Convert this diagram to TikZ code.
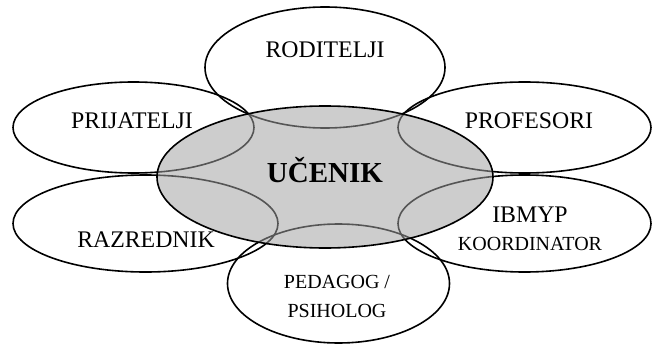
\documentclass[tikz,border=0pt]{standalone}
\usepackage{fontspec}
\setmainfont{Liberation Serif}
\usetikzlibrary{shapes.geometric}
\tikzset{
  petal/.style={ellipse, draw=black, line width=1.6pt, inner sep=0pt},
  core/.style={ellipse, draw=black, line width=1.6pt, inner sep=0pt, fill=black!37, fill opacity=0.53},
  lbl/.style={anchor=base, inner sep=0pt, font=\fontsize{23.8}{27}\selectfont},
  lblsmall/.style={anchor=base, inner sep=0pt, font=\fontsize{20}{23}\selectfont},
  lblbig/.style={anchor=base, inner sep=0pt, font=\fontsize{29}{33}\selectfont\bfseries}
}
\begin{document}
\begin{tikzpicture}[x=1pt,y=-1pt]
\useasboundingbox (0,0) rectangle (653,345);
% outer ellipses
\node[petal, minimum width=240pt, minimum height=121pt] (rod) at (325,67.5) {};
\node[petal, minimum width=241pt, minimum height=91pt] (pri) at (133.5,127.5) {};
\node[petal, minimum width=253pt, minimum height=91pt] (pro) at (524.5,127.5) {};
\node[petal, minimum width=265pt, minimum height=97pt] (raz) at (145.5,223.5) {};
\node[petal, minimum width=253pt, minimum height=97pt] (ib) at (524.5,223.5) {};
\node[petal, minimum width=222pt, minimum height=119pt] (ped) at (338.5,283.5) {};
% centre
\node[core, minimum width=336pt, minimum height=142pt] (uc) at (325,177) {};
% labels
\node[lbl] (trod) at (325,58) {RODITELJI};
\node[lbl] (tpri) at (132,128) {PRIJATELJI};
\node[lbl] (tpro) at (529,128) {PROFESORI};
\node[lblbig] (tuc) at (325,182) {UČENIK};
\node[lbl] (traz) at (146,247) {RAZREDNIK};
\node[lbl] (tib) at (530,222) {IBMYP};
\node[lblsmall] (tko) at (530,250) {KOORDINATOR};
\node[lblsmall] (tped) at (337,288) {PEDAGOG /};
\node[lblsmall] (tpsi) at (337,317) {PSIHOLOG};
\end{tikzpicture}
\end{document}
